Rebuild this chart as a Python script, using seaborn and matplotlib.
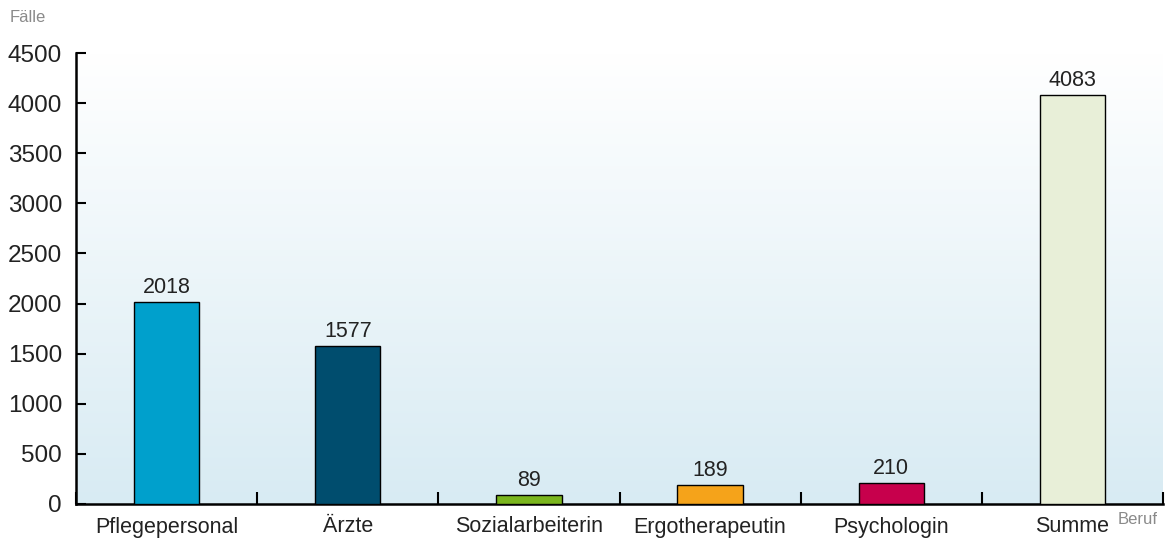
import numpy as np
import pandas as pd
import matplotlib
matplotlib.use("Agg")
import matplotlib.pyplot as plt
import seaborn as sns
from matplotlib.colors import LinearSegmentedColormap

categories = ["Pflegepersonal", "Ärzte", "Sozialarbeiterin", "Ergotherapeutin", "Psychologin", "Summe"]
values = [2018, 1577, 89, 189, 210, 4083]
colors = ["#00a0cc", "#004d6e", "#7ab51d", "#f5a31a", "#c7004c", "#e8efd8"]
yticks = [0, 500, 1000, 1500, 2000, 2500, 3000, 3500, 4000, 4500]

sns.set_theme(style="white")
plt.rcParams['font.family'] = ['Liberation Sans', 'DejaVu Sans']

fig = plt.figure(figsize=(11.72, 5.38), dpi=100)
ax = fig.add_axes([76/1172, 1-504/538, (1163-76)/1172, (504-53)/538])

df = pd.DataFrame({"Beruf": categories, "Fälle": values})
sns.barplot(data=df, x="Beruf", y="Fälle", hue="Beruf", palette=colors, legend=False,
            width=0.36, edgecolor="black", linewidth=1, saturation=1, ax=ax, zorder=3)

# gradient background: white at top, light blue at bottom
cmap = LinearSegmentedColormap.from_list("bg", ["#d8ebf3", "#ffffff"])
grad = np.linspace(0, 1, 256).reshape(-1, 1)
ax.imshow(grad, aspect="auto", cmap=cmap, extent=[-0.5, 5.5, 0, 4500], origin="lower", zorder=0)

ax.set_xlim(-0.5, 5.5)
ax.set_ylim(0, 4500)

for c in ax.containers:
    ax.bar_label(c, fmt="%d", padding=3, fontsize=15.5, color="#222222")

ax.set_yticks(yticks)
ax.set_yticklabels([str(v) for v in yticks], fontsize=17.5, color="#222222")
ax.tick_params(axis="y", direction="in", length=7, width=1.5, color="black", pad=10, left=True)

ax.set_xticks(range(len(categories)))
ax.set_xticklabels(categories, fontsize=15.5, color="#222222")
ax.tick_params(axis="x", which="major", length=0, pad=9)
ax.set_xticks(np.arange(-0.5, 6, 1), minor=True)
ax.tick_params(axis="x", which="minor", direction="in", length=9, width=1.5, color="black", bottom=True)

for s in ["top", "right"]:
    ax.spines[s].set_visible(False)
for s in ["left", "bottom"]:
    ax.spines[s].set_color("black")
    ax.spines[s].set_linewidth(1.8)

ax.set_xlabel("")
ax.set_ylabel("")
fig.text(10/1172, 1-17/538, "Fälle", fontsize=12, color="#8a8a8a", va="center", ha="left")
fig.text(1118/1172, 1-520/538, "Beruf", fontsize=12, color="#8a8a8a", va="center", ha="left")

fig.savefig("out.png", dpi=100)
